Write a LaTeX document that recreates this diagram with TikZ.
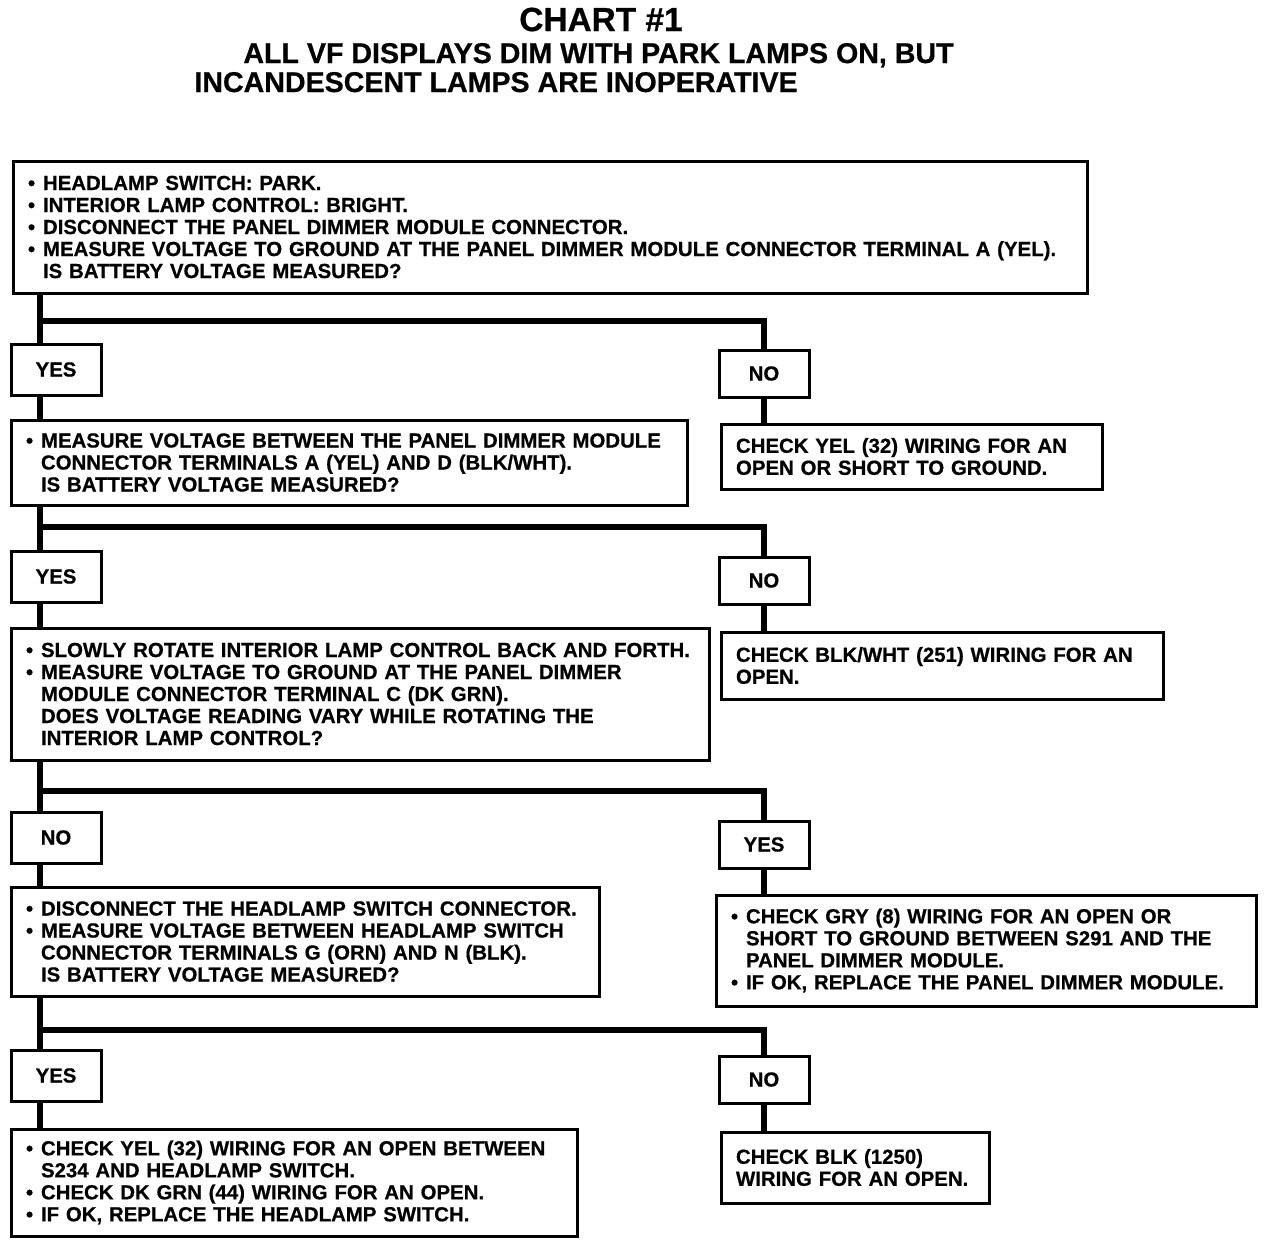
\documentclass[tikz,border=0pt]{standalone}
\usepackage{fontspec}
\setmainfont{Liberation Sans}[BoldFeatures={FakeBold=0.6}]
\usepackage{tikz}
\usetikzlibrary{positioning, calc}
\newcommand{\bodyfont}{\fontsize{10.2}{11}\selectfont\bfseries}
\newcommand{\bulitem}{\makebox[7.5pt][l]{\textbullet}}
\newcommand{\indnt}{\hspace*{7.5pt}}
\tikzset{
  textbox/.style={rectangle, draw=black, line width=1.5pt, anchor=north west, align=left,
    inner xsep=7.5pt, inner ysep=0pt, font=\bodyfont},
  answer/.style={rectangle, draw=black, line width=1.5pt, minimum width=45pt, inner sep=0pt, font=\bodyfont},
  heading/.style={inner sep=0pt, font=\fontsize{14.3}{17}\selectfont\bfseries},
  wire/.style={line width=3pt, color=black}
}
\begin{document}
\begin{tikzpicture}[x=0.5pt, y=-0.5pt]
  \useasboundingbox[fill=white] (0,0) rectangle (1280,1244);
  % title
  \node[inner sep=0pt, font=\fontsize{16.7}{20}\selectfont\bfseries, anchor=base] (title) at (601,31) {CHART \#1};
  \node[heading, anchor=base west] (sub1) at (243,63) {ALL VF DISPLAYS DIM WITH PARK LAMPS ON, BUT};
  \node[heading, anchor=base west] (sub2) at (194,92) {INCANDESCENT LAMPS ARE INOPERATIVE};
  % spine and branch points
  \coordinate (spine) at (40,0);
  \coordinate (br1) at (764,321);
  \coordinate (br2) at (764,527);
  \coordinate (br3) at (764,791);
  \coordinate (br4) at (764,1030);
  % first check
  \node[textbox, minimum width=537pt, text width=522pt, minimum height=66pt] (b1) at (11.5,159.5)
    {\bulitem HEADLAMP SWITCH: PARK.\\
     \bulitem INTERIOR LAMP CONTROL: BRIGHT.\\
     \bulitem DISCONNECT THE PANEL DIMMER MODULE CONNECTOR.\\
     \bulitem MEASURE VOLTAGE TO GROUND AT THE PANEL DIMMER MODULE CONNECTOR TERMINAL A (YEL).\\
     \indnt IS BATTERY VOLTAGE MEASURED?};
  \node[answer, anchor=north west, minimum height=25.5pt] (yes1) at (9.5,342.5) {YES};
  \node[answer, anchor=north, minimum height=23.5pt] (no1) at (764,348.5) {NO};
  \node[textbox, minimum width=190.5pt, text width=175.5pt, minimum height=32.5pt] (chk1) at (719.5,422.5)
    {CHECK YEL (32) WIRING FOR AN\\
     OPEN OR SHORT TO GROUND.};
  % second check
  \node[textbox, minimum width=338pt, text width=323pt, minimum height=42.5pt] (b2) at (9.5,418.5)
    {\bulitem MEASURE VOLTAGE BETWEEN THE PANEL DIMMER MODULE\\
     \indnt CONNECTOR TERMINALS A (YEL) AND D (BLK/WHT).\\
     \indnt IS BATTERY VOLTAGE MEASURED?};
  \node[answer, anchor=north west, minimum height=25.5pt] (yes2) at (9.5,549.5) {YES};
  \node[answer, anchor=north, minimum height=23.5pt] (no2) at (764,555.5) {NO};
  \node[textbox, minimum width=221pt, text width=206pt, minimum height=33.5pt] (chk2) at (719.5,630.5)
    {CHECK BLK/WHT (251) WIRING FOR AN\\
     OPEN.};
  % third check
  \node[textbox, minimum width=349pt, text width=334pt, minimum height=66pt] (b3) at (9.5,626.5)
    {\bulitem SLOWLY ROTATE INTERIOR LAMP CONTROL BACK AND FORTH.\\
     \bulitem MEASURE VOLTAGE TO GROUND AT THE PANEL DIMMER\\
     \indnt MODULE CONNECTOR TERMINAL C (DK GRN).\\
     \indnt DOES VOLTAGE READING VARY WHILE ROTATING THE\\
     \indnt INTERIOR LAMP CONTROL?};
  \node[answer, anchor=north west, minimum height=25.5pt] (no3) at (9.5,810.5) {NO};
  \node[answer, anchor=north, minimum height=23.5pt] (yes3) at (764,819.5) {YES};
  \node[textbox, minimum width=270pt, text width=255pt, minimum height=55.5pt] (b4) at (714.5,893.5)
    {\bulitem CHECK GRY (8) WIRING FOR AN OPEN OR\\
     \indnt SHORT TO GROUND BETWEEN S291 AND THE\\
     \indnt PANEL DIMMER MODULE.\\
     \bulitem IF OK, REPLACE THE PANEL DIMMER MODULE.};
  % fourth check
  \node[textbox, minimum width=294pt, text width=279pt, minimum height=54.5pt] (b5) at (9.5,885.5)
    {\bulitem DISCONNECT THE HEADLAMP SWITCH CONNECTOR.\\
     \bulitem MEASURE VOLTAGE BETWEEN HEADLAMP SWITCH\\
     \indnt CONNECTOR TERMINALS G (ORN) AND N (BLK).\\
     \indnt IS BATTERY VOLTAGE MEASURED?};
  \node[answer, anchor=north west, minimum height=25.5pt] (yes4) at (9.5,1048.5) {YES};
  \node[answer, anchor=north, minimum height=23.5pt] (no4) at (764,1054.5) {NO};
  \node[textbox, minimum width=134pt, text width=119pt, minimum height=35.5pt] (chk3) at (719.5,1130.5)
    {CHECK BLK (1250)\\
     WIRING FOR AN OPEN.};
  \node[textbox, minimum width=283pt, text width=268pt, minimum height=53.5pt] (b7) at (9.5,1127.5)
    {\bulitem CHECK YEL (32) WIRING FOR AN OPEN BETWEEN\\
     \indnt S234 AND HEADLAMP SWITCH.\\
     \bulitem CHECK DK GRN (44) WIRING FOR AN OPEN.\\
     \bulitem IF OK, REPLACE THE HEADLAMP SWITCH.};
  % connectors down the spine
  \draw[wire] (b1.south -| spine) -- (yes1.north -| spine);
  \draw[wire] (yes1.south -| spine) -- (b2.north -| spine);
  \draw[wire] (b2.south -| spine) -- (yes2.north -| spine);
  \draw[wire] (yes2.south -| spine) -- (b3.north -| spine);
  \draw[wire] (b3.south -| spine) -- (no3.north -| spine);
  \draw[wire] (no3.south -| spine) -- (b5.north -| spine);
  \draw[wire] (b5.south -| spine) -- (yes4.north -| spine);
  \draw[wire] (yes4.south -| spine) -- (b7.north -| spine);
  % branches to the right
  \draw[wire] (br1 -| spine) -- (br1) -- (no1);
  \draw[wire] (no1.south) -- (no1.south |- chk1.north);
  \draw[wire] (br2 -| spine) -- (br2) -- (no2);
  \draw[wire] (no2.south) -- (no2.south |- chk2.north);
  \draw[wire] (br3 -| spine) -- (br3) -- (yes3);
  \draw[wire] (yes3.south) -- (yes3.south |- b4.north);
  \draw[wire] (br4 -| spine) -- (br4) -- (no4);
  \draw[wire] (no4.south) -- (no4.south |- chk3.north);
\end{tikzpicture}
\end{document}
